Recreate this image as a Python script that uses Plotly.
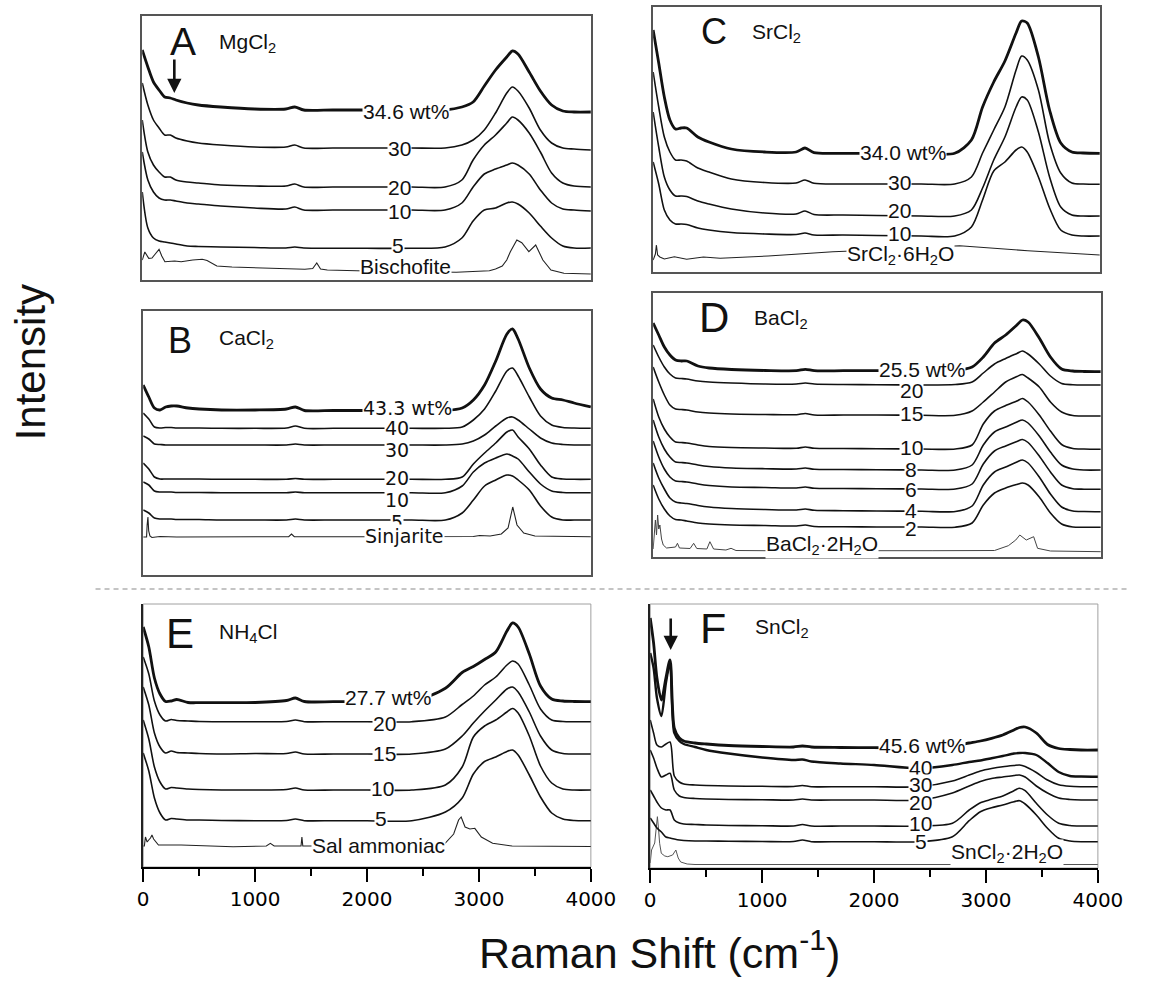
import plotly.graph_objects as go

W, H = 1155, 981

# ---------------- data (Raman shift in cm-1, intensity in arbitrary stacked units) -------------
G = [0, 50, 100, 150, 200, 250, 300, 400, 500, 700, 1000, 1280, 1360, 1440, 1700, 2000, 2400,
     2700, 2850, 2950, 3050, 3150, 3250, 3300, 3350, 3450, 3550, 3650, 3750, 3850, 4000]
GF = [0, 30, 60, 100, 140, 177, 215, 260, 300, 400, 500, 700, 1000, 1280, 1360, 1440, 1700, 2000,
      2400, 2700, 2850, 2950, 3050, 3150, 3250, 3300, 3350, 3450, 3550, 3650, 3750, 3850, 4000]

# Panel A  MgCl2
A_346 = [230, 213, 198, 190, 183, 182, 180, 177, 175, 173, 171, 171, 173, 170, 170, 170, 170, 170, 173, 178,
         194, 210, 223, 229, 226, 208, 189, 175, 169, 168, 168]
A_30 = [197, 175, 160, 152, 145, 145, 142, 139, 137, 135, 133, 133, 135, 132, 132, 132, 132, 132, 135, 140,
        150, 167, 187, 193, 189, 172, 150, 137, 132, 131, 130]
A_20 = [160, 128, 115, 108, 103, 103, 100, 98, 97, 95, 94, 94, 96, 93, 93, 93, 93, 93, 100, 120,
        135, 145, 157, 163, 160, 147, 128, 107, 97, 94, 93]
A_10 = [128, 100, 88, 82, 80, 80, 79, 77, 76, 74, 72, 71, 73, 70, 70, 70, 70, 70, 77, 93,
        106, 111, 115, 117, 115, 106, 90, 77, 71, 70, 69]
A_5 = [88, 52, 42, 39, 38, 37, 36, 34, 33.5, 33, 32.5, 32, 33, 32, 31.7, 31.7, 31.7, 33, 42, 59,
       70, 72, 77, 78, 76, 67, 54, 42, 34, 32, 32]
BIS_X = [0, 23, 58, 87, 116, 150, 174, 202, 289, 347, 450, 535, 578, 665, 800, 1100, 1450, 1520, 1556, 1590,
         1650, 2000, 2500, 2800, 3095, 3150, 3210, 3250, 3282, 3340, 3384, 3447, 3508, 3572, 3644, 3760, 4000]
BIS_Y = [20, 28, 21.7, 22, 26, 30.7, 24, 18.3, 19, 18.3, 20, 20.7, 19.5, 14, 13, 11.7, 10.7, 11.5, 17, 11,
         10, 9, 8, 7.7, 9.3, 11, 14, 20, 28.3, 40, 37.3, 28.3, 35, 20, 10, 6.7, 6]

# Panel B  CaCl2
B_433 = [190, 178, 167, 165, 168, 169, 169, 167, 166, 165, 165, 166, 168, 164.5, 164.5, 164.5, 164.5, 164.5,
         167, 175, 190, 214, 241, 246, 236, 207, 186, 177, 175, 172, 168]
B_40 = [162, 156, 148, 147, 147.5, 147.5, 147, 147, 147, 146.7, 146.7, 147, 149, 146.7, 146.7, 146.7, 146.7,
        146.7, 148, 155, 166, 184, 204, 207, 199, 178, 159, 150, 147.5, 147, 146.7]
B_30 = [139, 136, 131, 130.5, 130, 130, 130, 130, 130, 130, 130, 130, 131, 130, 130, 130, 130, 130, 131, 134,
        140, 149, 157, 158, 155, 146, 137, 132, 130.5, 130, 130]
B_20 = [112, 106, 98, 96, 96, 96, 96, 96, 96, 95.7, 95.7, 95.7, 96.5, 95.7, 95.7, 95.7, 95.7, 95.7, 98, 111,
        122, 132, 143, 145, 138, 126, 110, 98, 96, 95.7, 95.7]
B_10 = [93, 90, 84, 83, 83, 83, 82.5, 82.5, 82.5, 82.3, 82.3, 82.3, 83, 82.3, 82.3, 82.3, 82.3, 82.3, 89, 103,
        112, 117, 121, 119, 116, 103, 91, 84, 82.5, 82.3, 82.3]
B_5 = [65, 62, 57, 56, 56, 56, 55.5, 55.5, 55.5, 55, 55, 55, 56, 55, 55, 55, 55, 55, 62, 75,
       89, 95, 100, 99, 95, 85, 69, 58, 55, 55, 55]
SIN_X = [0, 30, 35, 42, 49, 60, 78, 150, 300, 600, 1000, 1300, 1325, 1350, 2000, 2700, 2950, 3006, 3100,
         3200, 3260, 3302, 3340, 3400, 3500, 4000]
SIN_Y = [38, 38, 50, 58, 44, 39, 37.5, 38.5, 38, 38, 38.3, 38.3, 41, 38.3, 38.3, 38.3, 38.5, 39.5, 39,
         41, 47, 68, 50, 42, 39, 38.3]

# Panel C  SrCl2
C_340 = [242, 209, 175, 152, 143, 144, 144, 135, 130, 123, 120, 120, 124, 119.3, 118.7, 118.7, 118.7, 118.7,
         132, 165, 190, 211, 239, 251, 249, 215, 162, 129, 120, 119, 118.7]
C_30 = [200, 165, 135, 120, 112, 112, 111, 104, 100, 93, 89.5, 89, 92, 88.7, 88, 88, 88, 88, 95, 119,
        142, 165, 202, 216, 212, 182, 129, 99, 89, 88, 87.7]
C_20 = [160, 125, 95, 82, 76, 76, 75.5, 71, 68, 63, 59, 58, 61, 57.5, 57, 56.5, 56, 56, 62, 84,
        112, 135, 165, 175, 172, 140, 95, 65, 57, 56, 56]
C_10 = [110, 88, 62, 52, 48, 48, 47.5, 44, 42, 39.5, 38, 37.5, 39, 37, 37, 36.5, 36, 36, 45, 72,
        101, 110, 122, 125, 120, 95, 64, 42, 37, 36, 36]
SRH_X = [0, 20, 29, 40, 60, 100, 190, 300, 450, 600, 1030, 1610, 2000, 2400, 2745, 3355, 4000]
SRH_Y = [12, 18, 27, 17, 15, 13, 15.3, 12.7, 15, 13.7, 16, 20.3, 22, 24, 26.3, 21.3, 17]

# Panel D  BaCl2
D_255 = [234, 222, 210, 202, 197, 196, 196, 191, 189, 187.5, 186.5, 186.3, 187.7, 186.3, 186.3, 186.3, 186.3,
         186.5, 190, 200, 214, 222, 232, 237, 235, 219, 200, 188, 186, 185.5, 185.3]
D_20 = [212, 200, 190, 183, 179, 178.5, 178, 176, 175, 174, 173, 173, 174, 173, 172.5, 172.3, 172, 172.5,
        175, 184, 193, 198.5, 203.5, 206, 203, 193, 181, 173.5, 172.3, 172, 172]
D_15 = [190, 175, 162, 152, 148, 147.5, 147, 145, 144, 143, 142.5, 142.3, 143.5, 142, 142, 142, 141.7, 141.7,
        146, 155, 165, 175, 180.5, 182.5, 179, 170, 155, 145, 141.5, 141, 141]
D_10 = [158, 140, 128, 120, 115, 114.5, 114, 112, 110.5, 109.5, 109, 108.7, 110, 108.7, 108.5, 108.3, 108, 108,
        112, 133, 146, 151.5, 156, 158.5, 155, 142, 126, 112.5, 108.5, 108, 107.7]
D_8 = [137, 120, 108, 100, 95, 94.5, 94, 92, 90.5, 89, 88.3, 88, 89, 87.7, 87.5, 87.3, 87, 87,
       92, 112, 125, 130, 135, 137, 134, 121, 105, 92, 88, 87, 87]
D_6 = [116, 100, 88, 80, 76, 75.5, 75, 73, 71.5, 70, 69.5, 69, 70, 68.7, 68.5, 68.3, 68, 68,
       73, 93, 106, 111, 115.5, 117.5, 114.5, 101, 85, 72, 68.3, 67.8, 67.7]
D_4 = [94, 79, 68, 59, 55, 54, 53.5, 51.5, 50, 48.5, 47.5, 47, 48, 46.7, 46.3, 46, 45.7, 45.5,
       51, 72, 85, 90, 95, 97, 94, 80, 63, 50, 46, 45.5, 45.3]
D_2 = [72, 58, 48, 41, 37.5, 37, 36, 34, 33, 32, 31.5, 31, 32, 30.5, 30.3, 30, 30, 29.8,
       34, 52, 64, 69, 72.5, 74, 72, 60, 44, 33, 30, 29.7, 29.7]
BAH_X = [0, 20, 30, 40, 50, 60, 75, 90, 120, 160, 200, 217, 235, 330, 362, 390, 480, 507, 540, 650, 696, 740,
         1000, 2500, 3050, 3174, 3240, 3276, 3334, 3400, 3435, 3550, 4000]
BAH_Y = [8, 37, 22, 42, 28, 32, 18, 12, 9, 9.5, 10, 13.7, 9, 8.5, 13.7, 8.5, 8, 15.3, 8, 7, 8.7, 6.5,
         6.3, 6.3, 6.5, 11.3, 17, 22, 17, 20.3, 8.7, 6, 5.3]

# Panel E  NH4Cl
E_277 = [240, 220, 189, 173, 165.5, 166, 167.5, 164.5, 164.3, 164.3, 164.5, 166.5, 169, 165.5, 165.3, 165.3,
         165.3, 178.7, 194.5, 200.5, 207.5, 215, 236, 244, 240, 213, 181, 168, 166, 165.5, 165.3]
E_20 = [210, 193, 166, 152, 146, 147.5, 146.5, 146, 145.5, 145.3, 145.3, 145.5, 147, 145.3, 145.3, 145.3,
        145.3, 150, 162.5, 171, 182, 190, 202, 206, 203, 182, 158, 147, 145.5, 145.3, 145.3]
E_15 = [180, 162, 134, 120, 114, 116, 114.5, 114, 113.5, 113, 113.5, 113.5, 115, 113, 113, 113, 113, 118,
        131, 144, 156, 167, 178, 180, 175, 155, 131, 117, 113.5, 113, 113]
E_10 = [147, 128, 100, 85, 78, 79.5, 79, 78, 77.5, 77, 77, 77.5, 79, 77, 77, 77, 77, 82,
        100, 130, 141, 147, 155, 158.5, 154, 131, 101, 84, 78, 77, 77]
E_5 = [114, 96, 69, 54, 47, 48.5, 48, 47, 47, 46.5, 46.3, 46.5, 48, 46.3, 46.3, 46.3, 46.3, 55,
       69, 93, 105.5, 110, 115.5, 117, 112, 92, 70, 54, 48, 46.5, 46.3]
SAL_X = [0, 10, 20, 35, 49, 65, 78, 93, 136, 339, 803, 1100, 1136, 1170, 1380, 1410, 1418, 1426, 1600, 2700,
         2774, 2818, 2841, 2876, 2919, 2963, 3021, 3122, 3296, 4000]
SAL_Y = [21, 21, 30, 25, 27, 29, 32, 28, 22, 22, 20.3, 21, 23.7, 21, 21, 21, 30, 21, 21, 24,
         33, 47, 50, 40, 38, 38.7, 30, 23.7, 21, 20.5]

# Panel F  SnCl2
F_456 = [250, 225, 190, 168, 190, 208, 140, 130, 127, 125, 124, 122.5, 121.5, 121, 122, 121, 120.5, 120.3,
         120.3, 122, 125, 127, 129.7, 133, 138, 140.5, 141, 135, 123.5, 119.5, 118.5, 118, 118]
F_40 = [215, 200, 170, 152, 185, 205, 135, 127, 124, 121, 118, 114.5, 110.5, 108, 108.5, 106.5, 104.5, 103,
        99.7, 103, 106, 107.5, 109.7, 112, 114.5, 115, 115, 113, 105, 96, 92, 91.5, 91.3]
F_30 = [148, 135, 123, 121, 124, 126, 92, 86, 84, 83, 82.5, 82, 81.7, 81.5, 82.5, 81.3, 81.3, 81.3,
        81.3, 87, 93, 97, 99.5, 101.3, 102.5, 103, 101.5, 95.5, 88, 83.3, 81.7, 81.3, 81.3]
F_20 = [118, 110, 100, 91, 93, 94.7, 78, 72, 70.5, 69.5, 69, 68.5, 68.3, 68, 69, 68, 68, 68,
        68, 75, 82, 86.5, 89.5, 91, 92.5, 93, 91, 82, 75, 70, 68.5, 68, 68]
F_10 = [78, 72, 66, 60, 58, 58, 48, 45, 44, 43.5, 43, 42.5, 42.3, 42, 43.5, 42, 42, 42,
        42, 44.7, 58, 65.3, 68.7, 72, 77.3, 79.7, 77.3, 64.7, 53, 44.7, 42.5, 42, 42]
F_5 = [50, 45, 40, 36, 31, 30, 29, 28, 27.5, 27, 27, 26.7, 26.5, 26.5, 28, 26.3, 26.3, 26.3,
       26.3, 31.3, 47.3, 56.3, 60.3, 63, 66.3, 67.3, 64, 53, 39.7, 29.7, 27, 26.3, 26.3]
SNH_X = [0, 12, 40, 55, 64, 75, 84, 99, 130, 157, 200, 229, 250, 272, 330, 400, 1000, 2000, 3000, 4000]
SNH_Y = [5, 18, 25, 44.7, 51.3, 38, 24.7, 14.7, 12, 11.3, 13, 18, 10, 6, 4, 3.5, 3.5, 3.5, 3.5, 3.5]

# labels: (text, x in cm-1, y in intensity units)
LAB_A = [("34.6 wt%", 2348, 169), ("30", 2290, 131.7), ("20", 2290, 93.3), ("10", 2290, 69.3),
         ("5", 2279, 35), ("Bischofite", 2343, 13.3)]
LAB_B = [("43.3 wt%", 2363, 166.7), ("40", 2267, 146.7), ("30", 2267, 125), ("20", 2267, 96.7),
         ("10", 2267, 75), ("5", 2267, 53.3), ("Sinjarite", 2339, 39)]
LAB_C = [("34.0 wt%", 2237, 120.3), ("30", 2208, 90.3), ("20", 2208, 62), ("10", 2208, 38.7),
         ("SrCl<sub>2</sub>·6H<sub>2</sub>O", 2216, 16.5)]
LAB_D = [("25.5 wt%", 2398, 187.7), ("20", 2305, 167), ("15", 2305, 144.3), ("10", 2305, 110.3),
         ("8", 2305, 87.7), ("6", 2305, 67.7), ("4", 2305, 47), ("2", 2305, 28.7),
         ("BaCl<sub>2</sub>·2H<sub>2</sub>O", 1507, 12)]
LAB_E = [("27.7 wt%", 2186, 169.7), ("20", 2157, 144.3), ("15", 2157, 113.7), ("10", 2137, 78.7),
         ("5", 2122, 48.7), ("Sal ammoniac", 2099, 22)]
LAB_F = [("45.6 wt%", 2424, 123), ("40", 2418, 101.3), ("30", 2418, 84), ("20", 2418, 66.3),
         ("10", 2418, 44.7), ("5", 2418, 27.3), ("SnCl<sub>2</sub>·2H<sub>2</sub>O", 3192, 14.7)]

TITLES = [("A", "MgCl<sub>2</sub>"), ("B", "CaCl<sub>2</sub>"), ("C", "SrCl<sub>2</sub>"),
          ("D", "BaCl<sub>2</sub>"), ("E", "NH<sub>4</sub>Cl"), ("F", "SnCl<sub>2</sub>")]

# ---------------- layout geometry (pixels) ----------------
# suffix, left, right, top, bottom, y-range
BOXES = [("", 140, 601, 16, 280, 264), ("2", 141, 601, 311, 575, 264), ("3", 665, 1124, 7, 272, 265),
         ("4", 665, 1125, 293, 557, 264), ("5", 141, 601, 604, 867, 263), ("6", 662, 1122, 604, 868, 264)]
TITLE_POS = [(362, 239, 39, 668, 237), (330, 235, 36, 661, 236), (549, 240, 36, 871, 239),
             (548, 240, 42, 887, 238), (330, 234, 42, 661, 234), (557, 240, 43, 922, 240)]

BLACK = "#111111"
fig = go.Figure()


def add(xs, ys, n, w=1.6, color=BLACK, shape="spline"):
    line = dict(color=color, width=w, shape=shape)
    if shape == "spline":
        line["smoothing"] = 0.8
    fig.add_trace(go.Scatter(x=xs, y=ys, mode="lines", xaxis="x" + n, yaxis="y" + n,
                             line=line, hoverinfo="skip", showlegend=False))


# Panel A
add(BIS_X, BIS_Y, "", 1.1, "#222", "linear")
for ys in (A_5, A_10, A_20, A_30):
    add(G, ys, "")
add(G, A_346, "", 2.8)
# Panel B
add(SIN_X, SIN_Y, "2", 1.1, "#222", "linear")
for ys in (B_5, B_10, B_20, B_30, B_40):
    add(G, ys, "2")
add(G, B_433, "2", 2.8)
# Panel C
add(SRH_X, SRH_Y, "3", 1.1, "#222", "linear")
for ys in (C_10, C_20, C_30):
    add(G, ys, "3")
add(G, C_340, "3", 2.8)
# Panel D
add(BAH_X, BAH_Y, "4", 1.0, "#444", "linear")
for ys in (D_2, D_4, D_6, D_8, D_10, D_15, D_20):
    add(G, ys, "4")
add(G, D_255, "4", 2.8)
# Panel E
add(SAL_X, SAL_Y, "5", 1.1, "#222", "linear")
for ys in (E_5, E_10, E_15, E_20):
    add(G, ys, "5")
add(G, E_277, "5", 2.8)
# Panel F
add(SNH_X, SNH_Y, "6", 1.0, "#555", "linear")
for ys in (F_5, F_10, F_20, F_30):
    add(GF, ys, "6")
add(GF, F_40, "6", 2.4)
add(GF, F_456, "6", 2.8)

layout = dict(width=W, height=H, margin=dict(l=0, r=0, t=0, b=0), paper_bgcolor="white",
              plot_bgcolor="white", showlegend=False)
for n, l, r, t, b, yr in BOXES:
    framed = n in ("", "2", "3", "4")
    layout["xaxis" + n] = dict(domain=[l / W, r / W], range=[0, 4000], anchor="y" + n, showgrid=False,
                               zeroline=False, showticklabels=False, ticks="", showline=True,
                               mirror=framed, linecolor="#555" if framed else "black", linewidth=1.5,
                               fixedrange=True)
    layout["yaxis" + n] = dict(domain=[1 - b / H, 1 - t / H], range=[0, yr], anchor="x" + n,
                               showgrid=False, zeroline=False, showticklabels=False, ticks="",
                               showline=True, mirror=framed, linecolor="#555" if framed else "#222",
                               linewidth=1.5, fixedrange=True)

tickfont = dict(family="DejaVu Sans", size=20, color="black")
for n, ov in (("5", "7"), ("6", "8")):
    layout["xaxis" + n].update(ticks="outside", ticklen=13, tickwidth=1.5, tickcolor="black",
                               tick0=0, dtick=1000, showticklabels=True, tickfont=tickfont,
                               minor=dict(ticks="outside", ticklen=7, tickwidth=1.5, tickcolor="black",
                                          dtick=500))
    layout["xaxis" + ov] = dict(overlaying="x" + n, anchor="y" + n, range=[0, 4000], ticks="inside",
                                ticklen=11, tickwidth=1.5, tickcolor="black", tick0=0, dtick=1000,
                                showticklabels=False, showline=False, showgrid=False, zeroline=False,
                                minor=dict(ticks="inside", ticklen=5, tickwidth=1.5, tickcolor="black",
                                           dtick=500), fixedrange=True)

shapes = [dict(type="line", xref="paper", yref="paper", x0=92 / W, x1=1152 / W, y0=1 - 589 / H,
               y1=1 - 589 / H, line=dict(color="#8a8a8a", width=1.2, dash="5px,4px"))]
for n in ("5", "6"):
    shapes.append(dict(type="rect", xref="x%s domain" % n, yref="y%s domain" % n, x0=0, x1=1, y0=0, y1=1,
                       line=dict(color="#a0a0a0", width=1), layer="below"))
layout["shapes"] = shapes

ann = []
LF = "Liberation Sans, Arial, sans-serif"
for (n, *_), labs in zip(BOXES, (LAB_A, LAB_B, LAB_C, LAB_D, LAB_E, LAB_F)):
    fam = "DejaVu Sans" if n == "2" else LF
    size = 19 if n == "2" else 21
    for text, x, y in labs:
        numeric = text.replace(" wt%", "").replace(".", "").isdigit()
        a = dict(text=text, x=x, y=y, xref="x" + n, yref="y" + n, showarrow=False,
                 font=dict(family=fam, size=size, color=BLACK), bgcolor="white", borderpad=0,
                 xanchor="center", yanchor="middle")
        if numeric:
            a["height"] = 18
        ann.append(a)
for (n, *_), (big, small), (bx, by, bs, sx, sy) in zip(BOXES, TITLES, TITLE_POS):
    ann.append(dict(text=big, x=bx, y=by, xref="x" + n, yref="y" + n, showarrow=False,
                    font=dict(family=LF, size=bs, color=BLACK), xanchor="center", yanchor="middle"))
    ann.append(dict(text=small, x=sx, y=sy, xref="x" + n, yref="y" + n, showarrow=False,
                    font=dict(family=LF, size=21, color=BLACK), xanchor="left", yanchor="middle"))
# arrows marking the low-frequency bands
for n, x, y0, y1 in (("", 286, 222, 187), ("6", 183, 251, 218)):
    ann.append(dict(text="", x=x, y=y1, ax=x, ay=y0, xref="x" + n, yref="y" + n, axref="x" + n,
                    ayref="y" + n, showarrow=True, arrowhead=2, arrowsize=1.1, arrowwidth=2.6,
                    arrowcolor=BLACK))
ann.append(dict(text="Raman Shift (cm<sup>-1</sup>)", x=672 / W, y=1 - 950 / H, xref="paper", yref="paper",
                showarrow=False, font=dict(family=LF, size=43, color=BLACK), xanchor="center",
                yanchor="middle"))
ann.append(dict(text="Intensity", x=25 / W, y=1 - 362 / H, xref="paper", yref="paper", textangle=-90,
                showarrow=False, font=dict(family=LF, size=42, color=BLACK), xanchor="center",
                yanchor="middle"))
layout["annotations"] = ann

fig.update_layout(**layout)
fig.write_html("out.html")
